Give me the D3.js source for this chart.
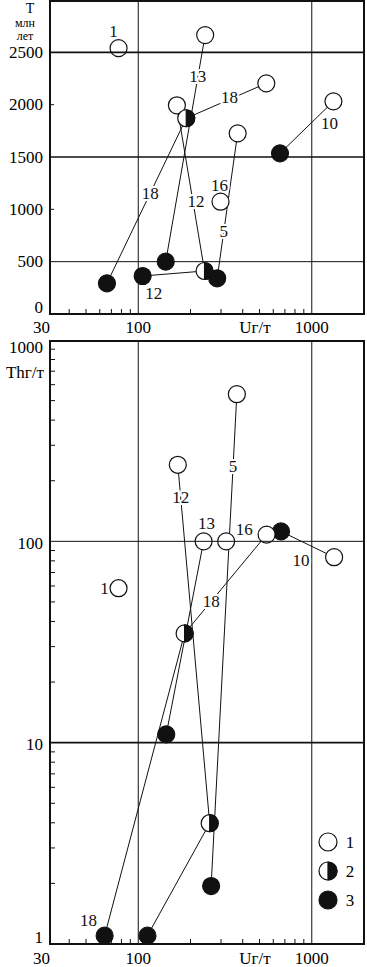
<!DOCTYPE html>
<html>
<head>
<meta charset="utf-8">
<script src="https://d3js.org/d3.v7.min.js"></script>
<style>
    body { margin: 0; background: #fff; }
    svg { display: block; }
    svg text { font-family: "Liberation Serif", "Times New Roman", Times, serif; }
</style>
</head>
<body>
<div id="chart"></div>
<script>
// samples, each one is a chain of points joined by a line
const samples = ["1", "5", "10", "12", "13", "16", "18"];
// upper plot: U g/t and age T (mln years)
const uAge = [[77], [374, 285], [656, 1333], [167, 241, 106], [243, 144], [298], [547, 189, 66]];
const tAge = [[2540], [1726, 341], [1535, 2032], [1994, 411, 363], [2665, 500], [1073], [2204, 1870, 293]];
// lower plot: U g/t and Th g/t
const uTh = [[77], [370, 263], [665, 1345], [169, 258, 113], [238, 145], [321], [549, 185, 64]];
const thVal = [[58.5], [538, 1.94], [112, 83.4], [240, 3.98, 1.1], [100, 11], [100], [108, 34.9, 1.1]];
// point kind: 1 open, 2 half filled, 3 filled
const kinds = [[1], [1, 3], [3, 1], [1, 2, 3], [1, 3], [1], [1, 2, 3]];

const xTickLabels = [30, 100, 1000];
const tTickLabels = [0, 500, 1000, 1500, 2000, 2500];
const thTickLabels = [1, 10, 100, 1000];
const legendKinds = [1, 2, 3];

const width = 367,
    height = 967;

const svg = d3.select("#chart")
    .append("svg")
    .attr("width", width)
    .attr("height", height)
    .attr("font-family", "'Liberation Serif', 'Times New Roman', Times, serif");

// shared U axis
const x = d3.scaleLog().domain([31, 2000]).range([50, 364]);
const yT = d3.scaleLinear().domain([0, 3000]).range([314, 0]);
const yTh = d3.scaleLog().domain([1, 1000]).range([944, 340]);

const minorX = [];
[10, 100, 1000].forEach(d => d3.range(2, 10).forEach(k => {
    if (d * k > 31 && d * k < 2000) minorX.push(d * k);
}));
const minorTh = [];
[1, 10, 100].forEach(d => d3.range(2, 10).forEach(k => minorTh.push(d * k)));

// label placement: sample, point (segment start), position along segment or offset
const topLabels = [
    {s: 0, p: 0, dx: -5, dy: -17},
    {s: 4, p: 0, t: 0.185},
    {s: 6, p: 0, t: 0.46, dy: -2},
    {s: 6, p: 1, t: 0.455},
    {s: 3, p: 0, t: 0.58, dx: 3},
    {s: 3, p: 2, dx: 11, dy: 17},
    {s: 1, p: 0, t: 0.68},
    {s: 5, p: 0, dx: -1, dy: -16},
    {s: 2, p: 1, dx: -4, dy: 22}
];
const bottomLabels = [
    {s: 0, p: 0, dx: -14, dy: 0},
    {s: 1, p: 0, t: 0.146},
    {s: 3, p: 0, t: 0.091},
    {s: 4, p: 0, dx: 3, dy: -18},
    {s: 5, p: 0, dx: 18, dy: -12},
    {s: 2, p: 1, dx: -33, dy: 3},
    {s: 6, p: 0, t: 0.676},
    {s: 6, p: 2, dx: -16, dy: -15}
];

const r = 8.5;
const fs = 17;

function drawMarker(g, cx, cy, kind, rad) {
    g.append("circle")
        .attr("cx", cx).attr("cy", cy).attr("r", rad)
        .attr("fill", kind === 3 ? "#111" : "#fff")
        .attr("stroke", "#111")
        .attr("stroke-width", 1.2);
    if (kind === 2) {
        g.append("path")
            .attr("d", `M${cx},${cy - rad}A${rad},${rad} 0 0 1 ${cx},${cy + rad}Z`)
            .attr("fill", "#111")
            .attr("stroke", "#111")
            .attr("stroke-width", 1.2);
    }
}

function drawPanel(y, uArr, vArr, labels) {
    const g = svg.append("g");
    const [y0, y1] = y.range();

    // grid
    g.selectAll(".vgrid")
        .data([100, 1000])
        .join("line")
        .attr("x1", d => x(d)).attr("x2", d => x(d))
        .attr("y1", y1).attr("y2", y0)
        .attr("stroke", "#111").attr("stroke-width", 1);

    // minor ticks on U axis
    g.selectAll(".mx")
        .data(minorX)
        .join("line")
        .attr("x1", d => x(d)).attr("x2", d => x(d))
        .attr("y1", y0).attr("y2", y0 - 5)
        .attr("stroke", "#111").attr("stroke-width", 1);

    // lines
    const pts = uArr.map((us, i) => us.map((u, j) => [x(u), y(vArr[i][j])]));
    pts.forEach(p => {
        if (p.length > 1) {
            g.append("path")
                .attr("d", d3.line()(p))
                .attr("fill", "none")
                .attr("stroke", "#111")
                .attr("stroke-width", 1);
        }
    });

    // labels with white halo
    labels.forEach(l => {
        const a = pts[l.s][l.p];
        let lx = a[0], ly = a[1];
        if (l.t !== undefined) {
            const b = pts[l.s][l.p + 1];
            lx = a[0] + (b[0] - a[0]) * l.t;
            ly = a[1] + (b[1] - a[1]) * l.t;
        }
        g.append("text")
            .attr("x", lx + (l.dx || 0))
            .attr("y", ly + (l.dy || 0))
            .attr("text-anchor", "middle")
            .attr("dominant-baseline", "central")
            .attr("font-size", fs)
            .attr("stroke", "#fff")
            .attr("stroke-width", 4)
            .attr("paint-order", "stroke")
            .attr("fill", "#111")
            .text(samples[l.s]);
    });

    // markers
    pts.forEach((p, i) => p.forEach((c, j) => drawMarker(g, c[0], c[1], kinds[i][j], r)));

    // frame
    g.append("rect")
        .attr("x", 50).attr("y", y1 + 1)
        .attr("width", 314).attr("height", y0 - y1 - 1)
        .attr("fill", "none")
        .attr("stroke", "#111")
        .attr("stroke-width", 2);

    // U axis labels
    const lab = y0 + (y === yT ? 13 : 14);
    g.selectAll(".xl")
        .data(xTickLabels)
        .join("text")
        .attr("x", d => x(d) + (d === 30 ? -6 : 0))
        .attr("y", lab)
        .attr("text-anchor", "middle")
        .attr("dominant-baseline", "central")
        .attr("font-size", fs)
        .text(d => d);
    g.append("text")
        .attr("x", 255)
        .attr("y", lab)
        .attr("text-anchor", "middle")
        .attr("dominant-baseline", "central")
        .attr("font-size", fs)
        .text("Uг/т");
    return g;
}

// upper plot: age
const gTop = drawPanel(yT, uAge, tAge, topLabels);

gTop.selectAll(".hgrid")
    .data([500, 1500, 2500])
    .join("line")
    .attr("x1", 50).attr("x2", 364)
    .attr("y1", d => yT(d)).attr("y2", d => yT(d))
    .attr("stroke", "#111")
    .attr("stroke-width", d => d === 500 ? 1 : 1.6);

gTop.selectAll(".yt")
    .data([1000, 2000])
    .join("line")
    .attr("x1", 50).attr("x2", 54)
    .attr("y1", d => yT(d)).attr("y2", d => yT(d))
    .attr("stroke", "#111");

gTop.selectAll(".yl")
    .data(tTickLabels)
    .join("text")
    .attr("x", 43)
    .attr("y", d => yT(d) + (d === 0 ? -7 : 0))
    .attr("text-anchor", "end")
    .attr("dominant-baseline", "central")
    .attr("font-size", fs)
    .text(d => d);

// axis title, three short lines
const titleLines = ["T", "млн", "лет"];
gTop.selectAll(".title")
    .data(titleLines)
    .join("text")
    .attr("x", (d, i) => i === 0 ? 30 : 25)
    .attr("y", (d, i) => [13, 27, 40][i])
    .attr("text-anchor", "middle")
    .attr("font-size", (d, i) => i === 0 ? 14 : 12)
    .text(d => d);

// lower plot: thorium
const gBot = drawPanel(yTh, uTh, thVal, bottomLabels);

gBot.selectAll(".hgrid")
    .data([10, 100])
    .join("line")
    .attr("x1", 50).attr("x2", 364)
    .attr("y1", d => yTh(d)).attr("y2", d => yTh(d))
    .attr("stroke", "#111")
    .attr("stroke-width", d => d === 10 ? 1.8 : 1);

gBot.selectAll(".my")
    .data(minorTh)
    .join("line")
    .attr("x1", 50).attr("x2", 55)
    .attr("y1", d => yTh(d)).attr("y2", d => yTh(d))
    .attr("stroke", "#111");

gBot.selectAll(".yl")
    .data(thTickLabels)
    .join("text")
    .attr("x", 43)
    .attr("y", d => yTh(d) + (d === 1000 ? 7 : d === 1 ? -7 : 2))
    .attr("text-anchor", "end")
    .attr("dominant-baseline", "central")
    .attr("font-size", fs)
    .text(d => d);

gBot.append("text")
    .attr("x", 44)
    .attr("y", 372)
    .attr("text-anchor", "end")
    .attr("dominant-baseline", "central")
    .attr("font-size", fs)
    .text("Thг/т");

// legend
const legend = svg.append("g")
    .attr("transform", "translate(328, 842)");

legendKinds.forEach((k, i) => {
    drawMarker(legend, 0, i * 29, k, 9);
    legend.append("text")
        .attr("x", 22)
        .attr("y", i * 29)
        .attr("text-anchor", "middle")
        .attr("dominant-baseline", "central")
        .attr("font-size", fs)
        .text(k);
});
</script>
</body>
</html>
